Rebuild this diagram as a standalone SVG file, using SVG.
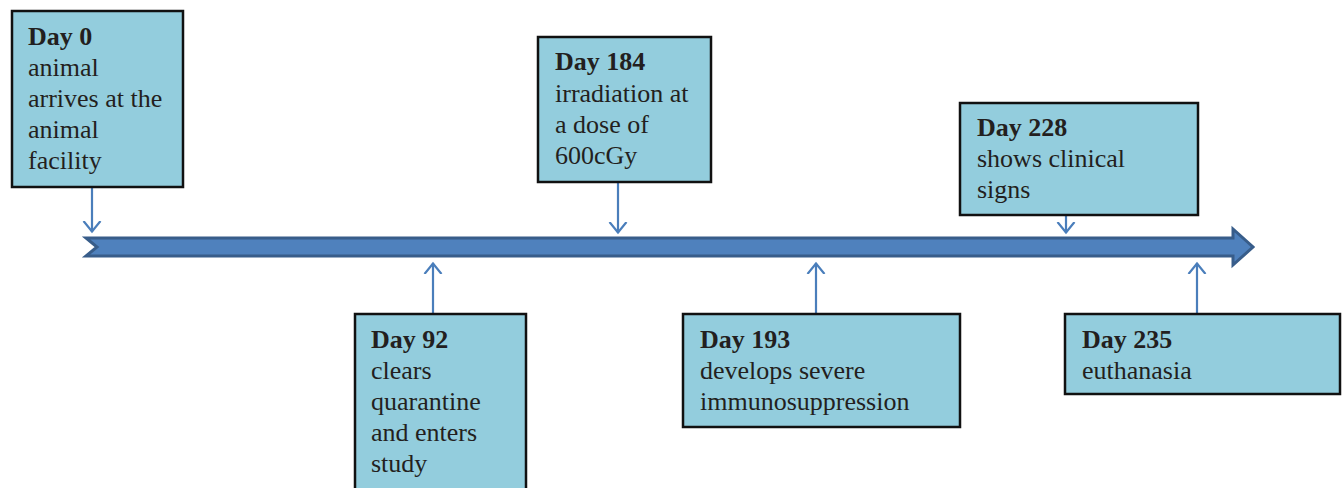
<svg xmlns="http://www.w3.org/2000/svg" width="1343" height="488" viewBox="0 0 1343 488">
<style>
.box{fill:#93CDDD;stroke:#111;stroke-width:2.5}
.t{font-family:"Liberation Serif","Times New Roman",serif;font-size:26px;fill:#231F20}
.b{font-weight:bold}
.c{stroke:#4A7EBB;stroke-width:2.2;fill:none}
</style>
<defs>
<marker id="ah" viewBox="0 0 20 20" refX="11" refY="10" markerWidth="20" markerHeight="20" markerUnits="userSpaceOnUse" orient="auto">
<path d="M0,1.5 L10.5,10 L0,18.5" fill="none" stroke="#4A7EBB" stroke-width="2.2"/>
</marker>
</defs>
<rect width="1343" height="488" fill="#fff"/>
<g id="timeline">
<path d="M86,238 L1233,238 L1233,229 L1253,247 L1233,265 L1233,256 L86,256 L97,247 Z" fill="#4F81BD" stroke="#385D8A" stroke-width="3" stroke-linejoin="miter"/>
</g>
<g id="connectors">
<line class="c" x1="92" y1="188" x2="92" y2="232" marker-end="url(#ah)"/>
<line class="c" x1="433" y1="314" x2="433" y2="263" marker-end="url(#ah)"/>
<line class="c" x1="618" y1="183" x2="618" y2="233" marker-end="url(#ah)"/>
<line class="c" x1="816" y1="314" x2="816" y2="263" marker-end="url(#ah)"/>
<line class="c" x1="1066" y1="216" x2="1066" y2="233" marker-end="url(#ah)"/>
<line class="c" x1="1197" y1="314" x2="1197" y2="263" marker-end="url(#ah)"/>
</g>
<g id="day0">
<rect class="box" x="12" y="11" width="171" height="176"/>
<text class="t"><tspan class="b" x="28" y="45">Day 0</tspan><tspan x="28" y="76">animal</tspan><tspan x="28" y="107">arrives at the</tspan><tspan x="28" y="138">animal</tspan><tspan x="28" y="169">facility</tspan></text>
</g>
<g id="day92">
<rect class="box" x="355" y="314" width="171" height="180"/>
<text class="t"><tspan class="b" x="371" y="348">Day 92</tspan><tspan x="371" y="379">clears</tspan><tspan x="371" y="410">quarantine</tspan><tspan x="371" y="441">and enters</tspan><tspan x="371" y="472">study</tspan></text>
</g>
<g id="day184">
<rect class="box" x="538" y="37" width="173" height="145"/>
<text class="t"><tspan class="b" x="555" y="70">Day 184</tspan><tspan x="555" y="102">irradiation at</tspan><tspan x="555" y="133">a dose of</tspan><tspan x="555" y="164">600cGy</tspan></text>
</g>
<g id="day193">
<rect class="box" x="683" y="314" width="277" height="113"/>
<text class="t"><tspan class="b" x="700" y="348">Day 193</tspan><tspan x="700" y="379">develops severe</tspan><tspan x="700" y="410">immunosuppression</tspan></text>
</g>
<g id="day228">
<rect class="box" x="960" y="103" width="238" height="112"/>
<text class="t"><tspan class="b" x="977" y="136">Day 228</tspan><tspan x="977" y="167">shows clinical</tspan><tspan x="977" y="198">signs</tspan></text>
</g>
<g id="day235">
<rect class="box" x="1065" y="314" width="275" height="80"/>
<text class="t"><tspan class="b" x="1082" y="348">Day 235</tspan><tspan x="1082" y="379">euthanasia</tspan></text>
</g>
</svg>
